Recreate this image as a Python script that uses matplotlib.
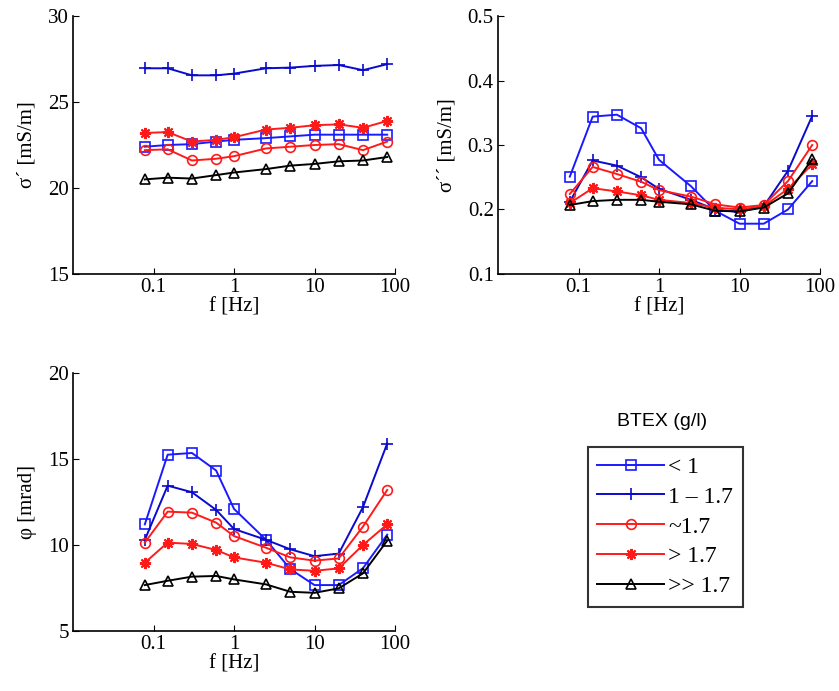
import matplotlib
matplotlib.use('Agg')
import numpy as np
from matplotlib import pyplot as plt
from matplotlib.lines import Line2D

# Frecuencias medidas (Hz)
freq = [0.078, 0.15, 0.3, 0.6, 1, 2.5, 5, 10, 20, 40, 80]

etiquetas = ['< 1', '1 \u2013 1.7', '~1.7', '> 1.7', '>> 1.7']
colores = ['#1a1aff', '#0a0acc', '#ff1a1a', '#ff1a1a', 'black']
marcadores = ['s', '+', 'o', (8, 2, 0), '^']

# sigma' [mS/m]
sig_r_menor1 = [22.4, 22.5, 22.55, 22.7, 22.8, 22.9, 23.0, 23.1, 23.1, 23.1, 23.1]
sig_r_1_17 = [26.96, 26.96, 26.55, 26.55, 26.65, 26.96, 27.0, 27.1, 27.15, 26.85, 27.2]
sig_r_aprox17 = [22.2, 22.25, 21.6, 21.7, 21.85, 22.3, 22.4, 22.5, 22.55, 22.2, 22.7]
sig_r_mayor17 = [23.2, 23.25, 22.7, 22.8, 22.95, 23.4, 23.5, 23.65, 23.7, 23.5, 23.9]
sig_r_mucho17 = [20.5, 20.6, 20.55, 20.75, 20.9, 21.1, 21.3, 21.4, 21.55, 21.6, 21.8]

# sigma'' [mS/m]
sig_i_menor1 = [0.251, 0.344, 0.347, 0.326, 0.277, 0.236, 0.198, 0.178, 0.178, 0.200, 0.244]
sig_i_1_17 = [0.212, 0.276, 0.268, 0.250, 0.232, 0.215, 0.200, 0.196, 0.205, 0.260, 0.345]
sig_i_aprox17 = [0.224, 0.266, 0.255, 0.243, 0.230, 0.220, 0.208, 0.203, 0.207, 0.244, 0.300]
sig_i_mayor17 = [0.210, 0.233, 0.228, 0.222, 0.215, 0.210, 0.203, 0.200, 0.205, 0.232, 0.270]
sig_i_mucho17 = [0.207, 0.213, 0.215, 0.215, 0.212, 0.208, 0.198, 0.197, 0.203, 0.225, 0.278]

# fase [mrad]
fase_menor1 = [11.2, 15.25, 15.35, 14.33, 12.1, 10.3, 8.6, 7.67, 7.67, 8.65, 10.6]
fase_1_17 = [10.3, 13.45, 13.07, 12.04, 10.93, 10.3, 9.75, 9.35, 9.5, 12.2, 15.9]
fase_aprox17 = [10.14, 11.94, 11.88, 11.3, 10.52, 9.84, 9.28, 9.09, 9.22, 11.07, 13.2]
fase_mayor17 = [8.97, 10.14, 10.06, 9.71, 9.28, 8.97, 8.58, 8.5, 8.64, 10.0, 11.2]
fase_mucho17 = [7.67, 7.92, 8.16, 8.2, 8.0, 7.71, 7.28, 7.22, 7.48, 8.35, 10.25]

datos = [
    ([sig_r_menor1, sig_r_1_17, sig_r_aprox17, sig_r_mayor17, sig_r_mucho17],
     '\u03c3\u00b4 [mS/m]', (15, 30), [15, 20, 25, 30], '%d'),
    ([sig_i_menor1, sig_i_1_17, sig_i_aprox17, sig_i_mayor17, sig_i_mucho17],
     '\u03c3\u00b4\u00b4 [mS/m]', (0.1, 0.5), [0.1, 0.2, 0.3, 0.4, 0.5], '%.1f'),
    ([fase_menor1, fase_1_17, fase_aprox17, fase_mayor17, fase_mucho17],
     '\u03c6 [mrad]', (5, 20), [5, 10, 15, 20], '%d'),
]

plt.rcParams['font.family'] = ['Liberation Serif', 'DejaVu Serif']
plt.rcParams['font.size'] = 14

W, H = 839, 691
fig = plt.figure(figsize=(W / 100, H / 100), dpi=100)

# posiciones de los ejes en pixeles (izq, arriba, der, abajo)
cajas = [(73, 16, 395, 274), (498, 16, 820, 274), (73, 373, 395, 631)]

def marco(caja):
    x0, y0, x1, y1 = caja
    return [x0 / W, 1 - y1 / H, (x1 - x0) / W, (y1 - y0) / H]

def estilo(c, m):
    kw = dict(color=c, marker=m, lw=1.4, ms=7, mew=1.2)
    if m in ('s', 'o', '^'):
        kw['mfc'] = 'none'
    elif m == '+':
        kw['ms'] = 9
    else:
        kw['ms'] = 8
        kw['mew'] = 1.5
    return kw

for (series, ylabel, ylim, yticks, fmt), caja in zip(datos, cajas):
    ax = fig.add_axes(marco(caja))
    for y, c, m in zip(series, colores, marcadores):
        ax.plot(freq, y, **estilo(c, m))
    ax.set_xscale('log')
    ax.set_xlim(0.01, 100)
    ax.set_xticks([0.1, 1, 10, 100])
    ax.set_xticklabels(['0.1', '1', '10', '100'])
    ax.minorticks_off()
    ax.set_ylim(*ylim)
    ax.set_yticks(yticks)
    ax.set_yticklabels([fmt % v for v in yticks])
    ax.spines['top'].set_visible(False)
    ax.spines['right'].set_visible(False)
    ax.spines['left'].set_linewidth(1.2)
    ax.spines['bottom'].set_linewidth(1.2)
    ax.tick_params(direction='in', length=4, width=0.8, labelsize=15, pad=3)
    ax.set_xlabel('f [Hz]', fontsize=15, labelpad=0)
    ax.set_ylabel(ylabel, fontsize=15, labelpad=8)

# leyenda
lineas = [Line2D([], [], **estilo(c, m)) for c, m in zip(colores, marcadores)]
leg = fig.legend(lineas, etiquetas, loc='upper left',
                 bbox_to_anchor=(588 / W, 1 - 447 / H), fontsize=17,
                 frameon=True, fancybox=False, edgecolor='black',
                 handlelength=2.8, handletextpad=0.2, labelspacing=0.35,
                 borderpad=0.4, borderaxespad=0)
leg.get_frame().set_linewidth(1.5)
fig.text(662 / W, 1 - 421 / H, 'BTEX (g/l)', ha='center', va='center',
         fontsize=14, family=['Liberation Sans', 'DejaVu Sans'])

fig.savefig('out.png', dpi=100)
